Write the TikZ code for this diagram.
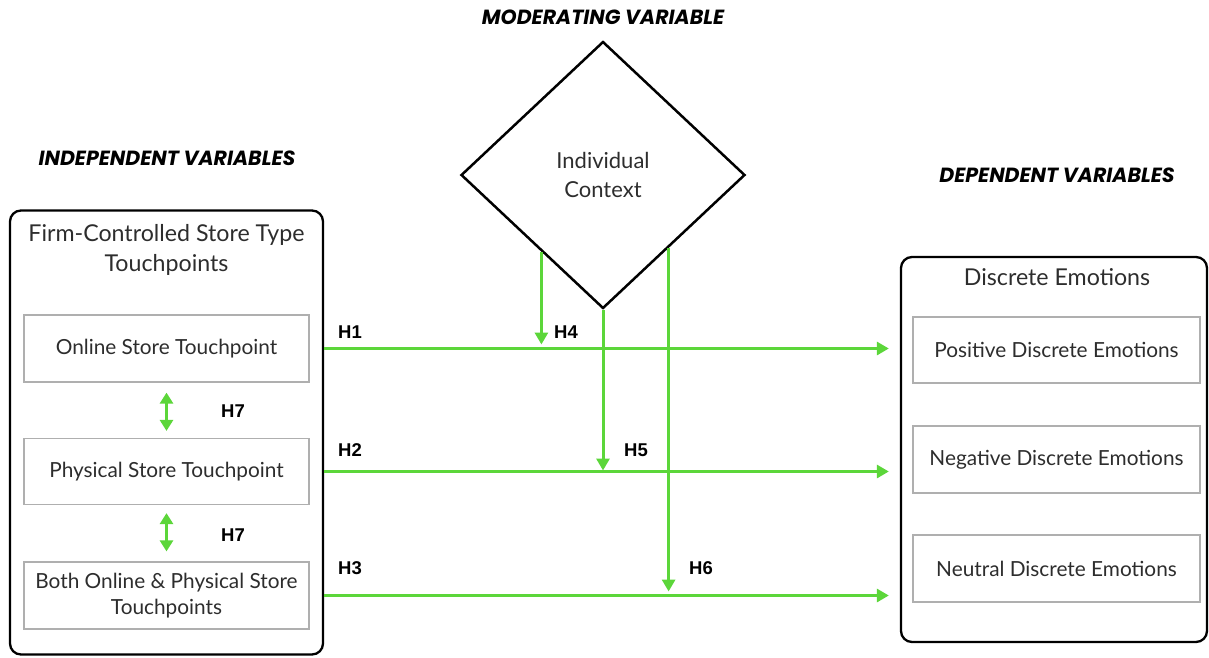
\documentclass[tikz,border=0pt]{standalone}
\usepackage{fontspec}
\setmainfont{Lato}
\newfontfamily\hfont{Liberation Sans}
\newfontfamily\hdrfont{Poppins}
\usetikzlibrary{shapes.geometric,arrows.meta,calc}
\definecolor{grn}{RGB}{92,214,58}
\definecolor{txt}{RGB}{45,45,45}
\definecolor{gbox}{RGB}{175,175,175}
\tikzset{
  bigbox/.style={draw=black, line width=2.3pt, rounded corners=11pt, inner sep=0pt},
  item/.style={draw=gbox, line width=1.2pt, inner sep=0pt, align=center, text=txt,
    font=\fontsize{20.8}{26}\selectfont},
  ttl/.style={align=center, text=txt, font=\fontsize{23.2}{30}\selectfont},
  hdr/.style={font=\hdrfont\fontsize{20.5}{22}\selectfont\bfseries\itshape},
  hl/.style={font=\hfont\bfseries\fontsize{18.5}{20}\selectfont},
  garrow/.style={draw=grn, line width=3pt, -{Triangle[width=13pt,length=12pt]}},
  gdouble/.style={draw=grn, line width=3pt, {Triangle[width=13pt,length=11pt]}-{Triangle[width=13pt,length=11pt]}},
}
\begin{document}
\begin{tikzpicture}[x=1pt,y=-1pt]
\useasboundingbox (0,0) rectangle (1209,657);
% left
\node[bigbox, minimum width=313pt, minimum height=444pt] (leftbox) at (166.5,432.5) {};
\node[ttl] (lefttitle) at (166.5,250) {Firm-Controlled Store Type\\Touchpoints};
\node[item, minimum width=285pt, minimum height=67pt] (online) at (166.5,348.5) {Online Store Touchpoint};
\node[item, minimum width=285pt, minimum height=66pt] (physical) at (166.5,471.5) {Physical Store Touchpoint};
\node[item, minimum width=285pt, minimum height=67pt] (both) at (166.5,595.5) {Both Online \& Physical Store\\Touchpoints};
\node[hdr] (indep) at (167,158) {INDEPENDENT VARIABLES};
% diamond
\node[diamond, draw=black, line width=2.5pt, minimum width=284pt, minimum height=267pt, inner sep=0pt,
  align=center, text=txt, font=\fontsize{22}{29}\selectfont] (dia) at (603,175) {Individual\\Context};
\node[hdr] (moder) at (603,17) {MODERATING VARIABLE};
% right
\node[bigbox, minimum width=306pt, minimum height=385pt] (rightbox) at (1054,449.5) {};
\node[ttl] (righttitle) at (1057,277) {Discrete Emotions};
\node[item, minimum width=287pt, minimum height=66pt] (pos) at (1056.5,350) {Positive Discrete Emotions};
\node[item, minimum width=287pt, minimum height=67pt] (neg) at (1056.5,459.5) {Negative Discrete Emotions};
\node[item, minimum width=287pt, minimum height=67pt] (neu) at (1056.5,568.5) {Neutral Discrete Emotions};
\node[hdr] (dep) at (1057,175) {DEPENDENT VARIABLES};
% arrows
\draw[garrow, shorten >=11pt] (leftbox.east |- online) -- (rightbox.west |- online);
\draw[garrow, shorten >=11pt] (leftbox.east |- physical) -- (rightbox.west |- physical);
\draw[garrow, shorten >=11pt] (leftbox.east |- both) -- (rightbox.west |- both);
\coordinate (h4s) at ($(dia.west)!0.57!(dia.south)$);
\coordinate (h6s) at ($(dia.south)!0.458!(dia.east)$);
\draw[garrow, shorten >=4pt] (h4s) -- (h4s |- online);
\draw[garrow, shorten >=1pt] (dia.south) -- (dia.south |- physical);
\draw[garrow, shorten >=4pt] (h6s) -- (h6s |- both);
\draw[gdouble, shorten <=10pt, shorten >=7pt] (online.south) -- (physical.north);
\draw[gdouble, shorten <=8pt, shorten >=10pt] (physical.south) -- (both.north);
% labels
\node[hl] (l1) at (350,332) {H1};
\node[hl] (l2) at (350,450) {H2};
\node[hl] (l3) at (350,568) {H3};
\node[hl] (l4) at (566,332) {H4};
\node[hl] (l5) at (636,450) {H5};
\node[hl] (l6) at (701,568) {H6};
\node[hl] (l7a) at (233,411) {H7};
\node[hl] (l7b) at (233,535) {H7};
\end{tikzpicture}
\end{document}
